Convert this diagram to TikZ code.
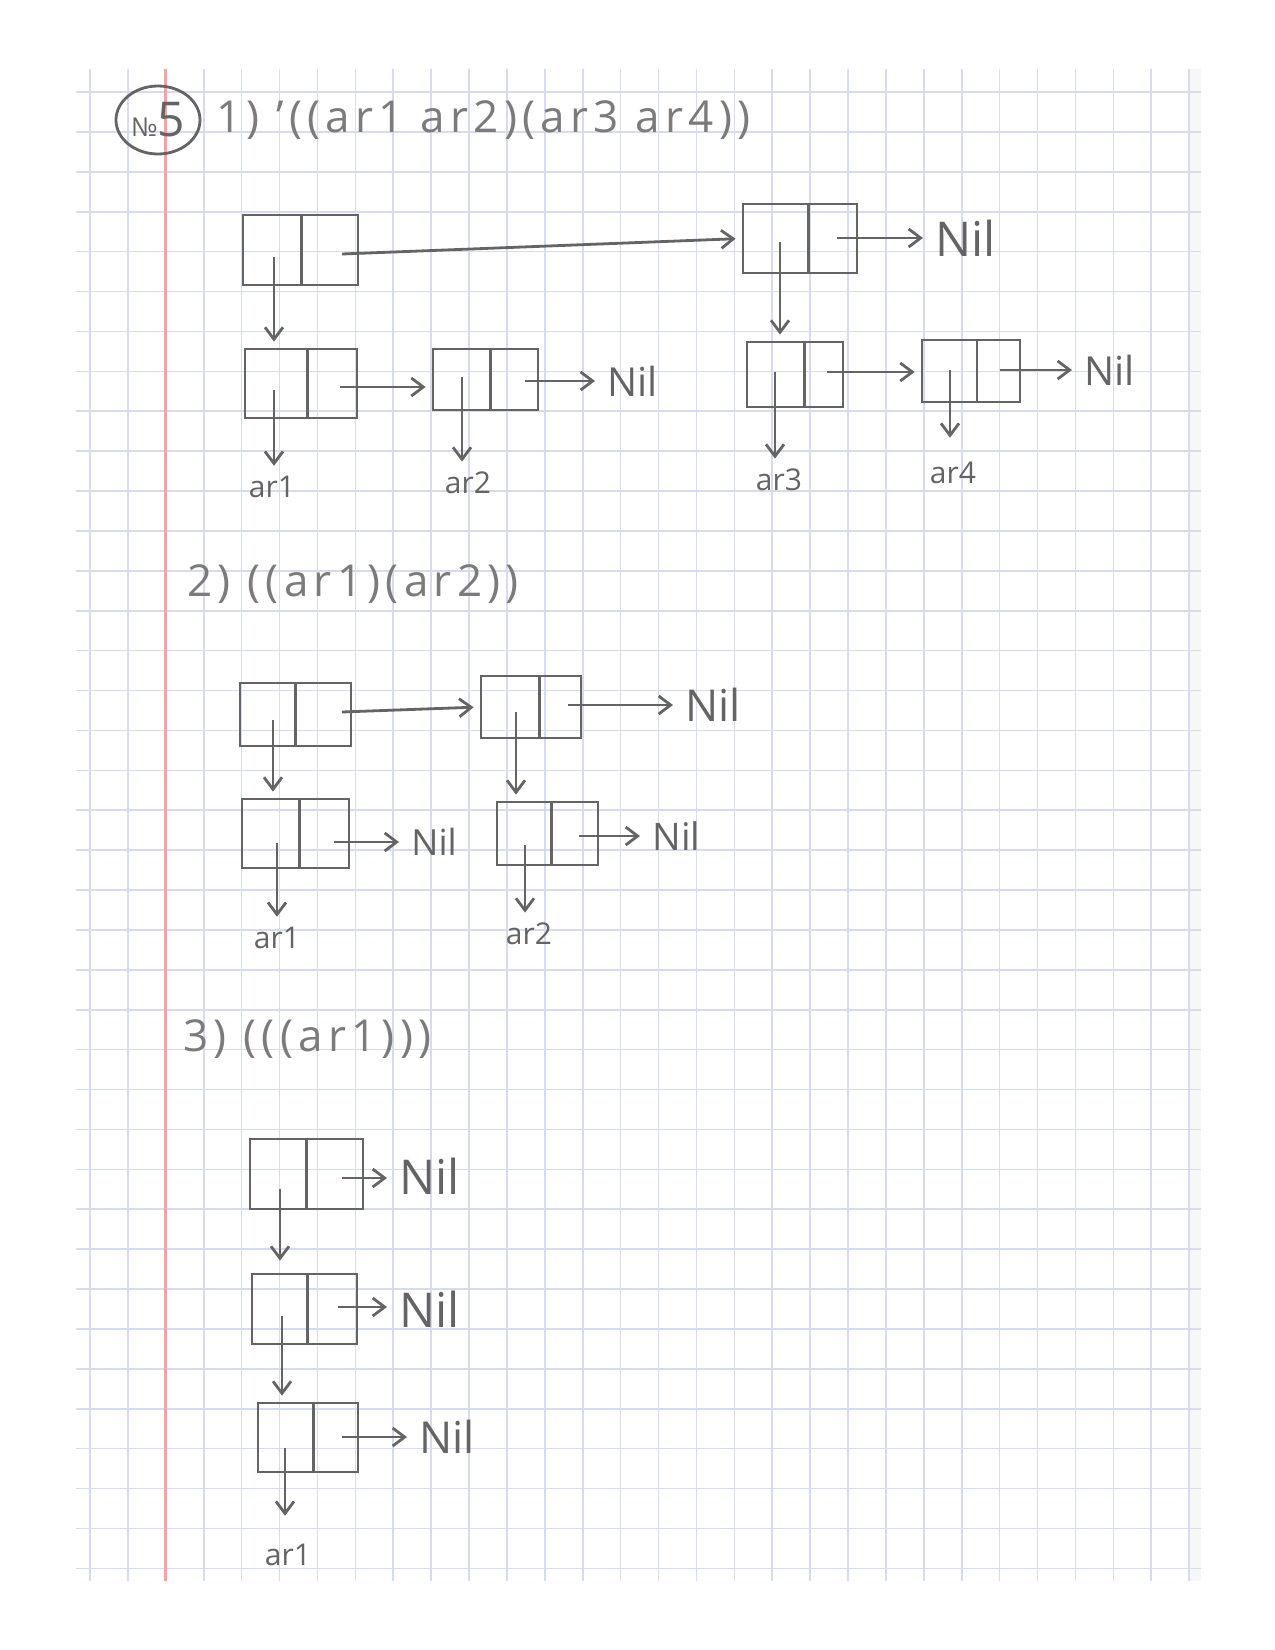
\documentclass[tikz,border=0pt]{standalone}
\usepackage{fontspec}
\setmainfont{Open Sans}
\usetikzlibrary{arrows.meta,calc,shapes.geometric}
\definecolor{gridc}{RGB}{214,219,238}
\definecolor{marginc}{RGB}{238,165,165}
\definecolor{inkc}{RGB}{100,100,100}

\begin{document}
\begin{tikzpicture}[x=0.5pt, y=-0.5pt,
    ink/.style={draw=inkc, line width=1.4pt},
    cell/.style={ink, rectangle, inner sep=0pt},
    ptr/.style={ink, shorten >=3pt, -{Straight Barb[length=6pt,width=9pt]}},
    lbl/.style={text=inkc, inner sep=2pt, font=\fontsize{15}{15}\selectfont},
    nil/.style={text=inkc, inner sep=3pt, anchor=west, font=\fontsize{#1}{#1}\selectfont},
    nil/.default=20,
    ttl/.style={text=inkc!85, anchor=west, inner sep=0pt, font=\fontsize{22}{22}\selectfont\addfontfeature{LetterSpace=12}},
    gridline/.style={draw=gridc, line width=0.8pt}]
\useasboundingbox ( 0, 0 ) rectangle ( 1275, 1650 );

% лист в клетку
                \fill [white] ( 76, 69 ) rectangle ( 1201, 1581 );
                \fill [black!3] ( 1190, 69 ) rectangle ( 1201, 1581 );
                \foreach \i in {0,...,29}
                    \draw [gridline] ( {90+37.9*\i}, 69 ) -- ( {90+37.9*\i}, 1581 );
                \foreach \j in {0,...,37}
                    \draw [gridline] ( 76, {92+39.9*\j} ) -- ( 1201, {92+39.9*\j} );
                \draw [draw=marginc, line width=1.5pt] ( 165, 69 ) -- ( 165, 1581 );

% заголовки
                \node [ink, ellipse, minimum width=42pt, minimum height=34pt, inner sep=0pt, text=inkc] (num) at ( 158, 120 )
                    {{\fontsize{13}{13}\selectfont №}{\fontsize{24}{24}\selectfont 5}};
                \node [ttl] (t1) at ( 216, 120 ) {1) '((ar1 ar2)(ar3 ar4))};
                \node [ttl] (t2) at ( 187, 584 ) {2) ((ar1)(ar2))};
                \node [ttl] (t3) at ( 183, 1039 ) {3) (((ar1)))};

% ячейки 1)
                \node [cell, minimum width=57.5pt, minimum height=35pt] (a) at ( 300.5, 250 ) {};
                \node [cell, minimum width=57pt, minimum height=34.5pt] (b) at ( 800, 238.5 ) {};
                \node [cell, minimum width=56pt, minimum height=34.5pt] (c) at ( 301, 383.5 ) {};
                \node [cell, minimum width=52.5pt, minimum height=30.5pt] (d) at ( 485.5, 379.5 ) {};
                \node [cell, minimum width=48pt, minimum height=32.5pt] (e) at ( 795, 374.5 ) {};
                \node [cell, minimum width=49pt, minimum height=31pt] (f) at ( 971, 371 ) {};
% ячейки 2)
                \node [cell, minimum width=55.5pt, minimum height=31.5pt] (g) at ( 295.5, 714.5 ) {};
                \node [cell, minimum width=50pt, minimum height=31pt] (h) at ( 531, 707 ) {};
                \node [cell, minimum width=53.5pt, minimum height=34.5pt] (i) at ( 295.5, 833.5 ) {};
                \node [cell, minimum width=50.5pt, minimum height=31.5pt] (j) at ( 547.5, 833.5 ) {};
% ячейки 3)
                \node [cell, minimum width=56.5pt, minimum height=35pt] (k) at ( 306.5, 1174 ) {};
                \node [cell, minimum width=52.5pt, minimum height=35pt] (l) at ( 304.5, 1309 ) {};
                \node [cell, minimum width=50pt, minimum height=34.5pt] (m) at ( 308, 1437.5 ) {};

% перегородки
                \foreach \n/\d in {a/0.51, b/0.57, c/0.56, d/0.55, e/0.6, f/0.56, g/0.5,
                                   h/0.58, i/0.54, j/0.54, k/0.5, l/0.53, m/0.55}
                    \draw [ink] ( $(\n.north west)!\d!(\n.north east)$ ) -- ( $(\n.south west)!\d!(\n.south east)$ );

% начала стрелок
                \coordinate (acar) at ( 274, 257 );   \coordinate (acdr) at ( 342, 254 );
                \coordinate (bcar) at ( 780, 242 );   \coordinate (bcdr) at ( 837, 238 );
                \coordinate (ccar) at ( 274, 390 );   \coordinate (ccdr) at ( 340, 387 );
                \coordinate (dcar) at ( 462, 377 );   \coordinate (dcdr) at ( 525, 381 );
                \coordinate (ecar) at ( 775, 372 );   \coordinate (ecdr) at ( 827, 372 );
                \coordinate (fcar) at ( 950, 370 );   \coordinate (fcdr) at ( 1000, 370 );
                \coordinate (gcar) at ( 273, 720 );   \coordinate (gcdr) at ( 342, 712 );
                \coordinate (hcar) at ( 516, 712 );   \coordinate (hcdr) at ( 568, 705 );
                \coordinate (icar) at ( 277, 843 );   \coordinate (icdr) at ( 334, 842 );
                \coordinate (jcar) at ( 525, 845 );   \coordinate (jcdr) at ( 579, 836 );
                \coordinate (kcar) at ( 280, 1189 );  \coordinate (kcdr) at ( 342, 1178 );
                \coordinate (lcar) at ( 282, 1316 );  \coordinate (lcdr) at ( 338, 1307 );
                \coordinate (mcar) at ( 285, 1448 );  \coordinate (mcdr) at ( 342, 1437 );

% атомы и Nil
                \node [lbl] (lc) at ( 272, 487 ) {ar1};
                \node [lbl] (ld) at ( 468, 483 ) {ar2};
                \node [lbl] (le) at ( 779, 480 ) {ar3};
                \node [lbl] (lf) at ( 953, 473 ) {ar4};
                \node [lbl] (li) at ( 277, 938 ) {ar1};
                \node [lbl] (lj) at ( 529, 934 ) {ar2};
                \node [lbl] (lm) at ( 288, 1555 ) {ar1};
                \node [nil=24] (nb) at ( 929, 238 ) {Nil};
                \node [nil] (nd) at ( 601, 381 ) {Nil};
                \node [nil] (nf) at ( 1078, 370 ) {Nil};
                \node [nil=22] (nh) at ( 679, 705 ) {Nil};
                \node [nil=18] (ni) at ( 405, 842 ) {Nil};
                \node [nil=19] (nj) at ( 646, 836 ) {Nil};
                \node [nil=24] (nk) at ( 393, 1176 ) {Nil};
                \node [nil=24] (nl) at ( 393, 1309 ) {Nil};
                \node [nil=22] (nm) at ( 413, 1437 ) {Nil};

% стрелки 1)
                \draw [ptr] (acdr) -- (b.west);
                \draw [ptr] (acar) -- (acar |- c.north);
                \draw [ptr] (bcar) -- (bcar |- e.north);
                \draw [ptr] (bcdr) -- (bcdr -| nb.west);
                \draw [ptr] (ccar) -- (ccar |- lc.north);
                \draw [ptr] (ccdr) -- (ccdr -| d.west);
                \draw [ptr] (dcar) -- (dcar |- ld.north);
                \draw [ptr] (dcdr) -- (dcdr -| nd.west);
                \draw [ptr] (ecar) -- (ecar |- le.north);
                \draw [ptr] (ecdr) -- (ecdr -| f.west);
                \draw [ptr, shorten >=10pt] (fcar) -- (fcar |- lf.north);
                \draw [ptr] (fcdr) -- (fcdr -| nf.west);
% стрелки 2)
                \draw [ptr] (gcdr) -- (h.west);
                \draw [ptr] (gcar) -- (gcar |- i.north);
                \draw [ptr] (hcar) -- (hcar |- j.north);
                \draw [ptr] (hcdr) -- (hcdr -| nh.west);
                \draw [ptr] (icar) -- (icar |- li.north);
                \draw [ptr] (icdr) -- (icdr -| ni.west);
                \draw [ptr] (jcar) -- (jcar |- lj.north);
                \draw [ptr] (jcdr) -- (jcdr -| nj.west);
% стрелки 3)
                \draw [ptr, shorten >=6pt] (kcar) -- (kcar |- l.north);
                \draw [ptr] (kcdr) -- (kcdr -| nk.west);
                \draw [ptr] (lcar) -- (lcar |- m.north);
                \draw [ptr] (lcdr) -- (lcdr -| nl.west);
                \draw [ptr, shorten >=12pt] (mcar) -- (mcar |- lm.north);
                \draw [ptr] (mcdr) -- (mcdr -| nm.west);
\end{tikzpicture}
\end{document}
